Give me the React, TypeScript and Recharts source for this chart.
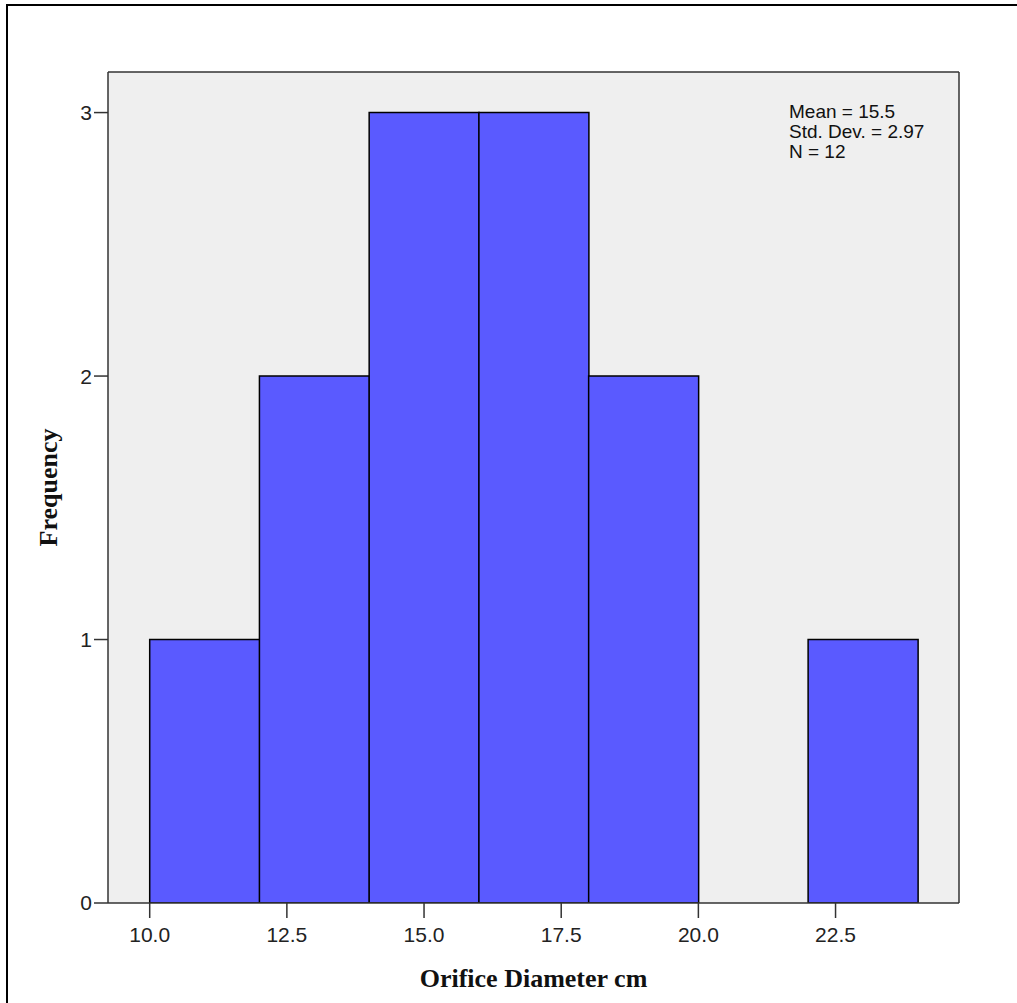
import React from 'react';
import { ComposedChart, Bar, XAxis, YAxis, CartesianGrid, ReferenceLine } from 'recharts';

// histogram bins (width 2 cm)
const binStarts = [10, 12, 14, 16, 18, 20, 22];
const binWidth = 2;
const frequencies = [1, 2, 3, 3, 2, 0, 1];

const xTicks = [10, 12.5, 15, 17.5, 20, 22.5];
const yTicks = [0, 1, 2, 3];
const xDomain = [9.24, 24.75];
const yDomain = [0, 3.154];

const statsLines = ['Mean = 15.5', 'Std. Dev. = 2.97', 'N = 12'];

const data = binStarts.map((lo, i) => ({
  mid: lo + binWidth / 2,
  count: frequencies[i],
}));

const axisColor = '#333';
const tickText = { fill: '#222', fontSize: 21, fontFamily: 'Liberation Sans, Arial, sans-serif' };
const titleStyle = { fill: '#111', fontSize: 26, fontWeight: 700, fontFamily: 'Liberation Serif, Times New Roman, serif' };

export default function App() {
  return (
    <div style={{ position: 'absolute', left: 0, top: 0, width: 1017, height: 1003, background: '#fff' }}>
      <div
        style={{
          position: 'absolute',
          left: 6,
          top: 4,
          width: 1011,
          height: 999,
          borderTop: '2px solid #000',
          borderLeft: '2px solid #000',
          boxSizing: 'border-box',
        }}
      />
      <ComposedChart
        width={1017}
        height={1003}
        data={data}
        barCategoryGap={0}
        barGap={0}
        margin={{ top: 72, right: 58, bottom: 0, left: 48 }}
        style={{ position: 'absolute', left: 0, top: 0 }}
      >
        <CartesianGrid fill="#efefef" horizontal={false} vertical={false} />
        <XAxis
          type="number"
          dataKey="mid"
          domain={xDomain}
          allowDataOverflow
          ticks={xTicks}
          tickFormatter={(v: number) => v.toFixed(1)}
          height={100}
          tickSize={15}
          tickMargin={9}
          tick={tickText}
          axisLine={{ stroke: axisColor, strokeWidth: 1.5 }}
          tickLine={{ stroke: axisColor, strokeWidth: 1.5 }}
          label={{ value: 'Orifice Diameter cm', position: 'insideBottom', offset: 16, style: titleStyle }}
        />
        <YAxis
          domain={yDomain}
          allowDataOverflow
          ticks={yTicks}
          width={60}
          tickSize={14}
          tickMargin={2}
          tick={tickText}
          axisLine={{ stroke: axisColor, strokeWidth: 1.5 }}
          tickLine={{ stroke: axisColor, strokeWidth: 1.5 }}
          label={{ value: 'Frequency', angle: -90, position: 'insideLeft', offset: 0, style: { ...titleStyle, textAnchor: 'middle' } }}
        />
        {/* top and right edges of the plot frame */}
        <ReferenceLine y={yDomain[1]} stroke={axisColor} strokeWidth={1.5} ifOverflow="visible" />
        <ReferenceLine x={xDomain[1]} stroke={axisColor} strokeWidth={1.5} ifOverflow="visible" />
        <Bar dataKey="count" fill="#5a5aff" stroke="#000" strokeWidth={1.5} isAnimationActive={false} />
      </ComposedChart>
      <div
        style={{
          position: 'absolute',
          left: 789,
          top: 102,
          fontFamily: 'Liberation Sans, Arial, sans-serif',
          fontSize: 19,
          lineHeight: '20px',
          color: '#111',
          whiteSpace: 'pre',
        }}
      >
        {statsLines.map((s) => (
          <div key={s}>{s}</div>
        ))}
      </div>
    </div>
  );
}
